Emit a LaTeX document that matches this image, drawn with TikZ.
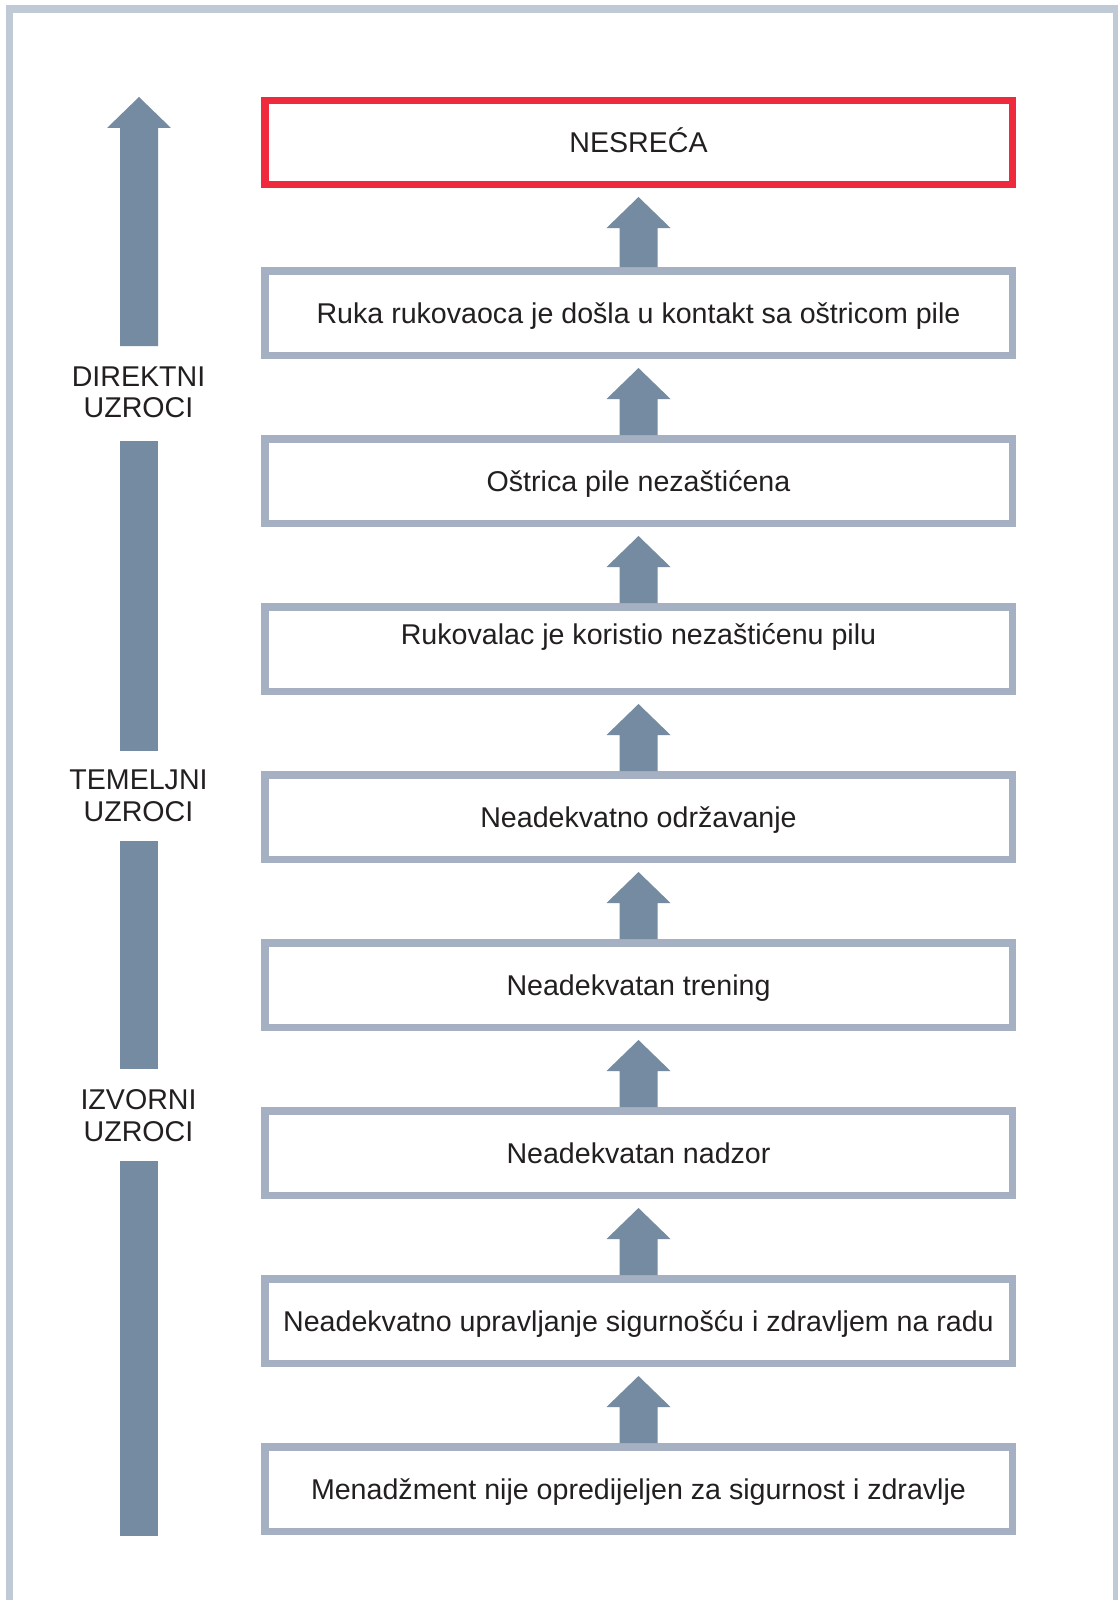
\documentclass[tikz,border=0pt]{standalone}
\usepackage{fontspec}
\setmainfont{Liberation Sans}
\usetikzlibrary{calc}
\definecolor{framecol}{RGB}{192,201,214}
\definecolor{boxcol}{RGB}{165,177,194}
\definecolor{arrowcol}{RGB}{117,139,161}
\definecolor{redcol}{RGB}{238,42,60}
\definecolor{txtcol}{RGB}{35,31,32}
\newcommand{\blockup}[2]{%
  \fill[arrowcol] ($(#1.north)+(-19,0)$) -- ($(#2.south)+(-19,40)$) -- ($(#2.south)+(-32,40)$) -- ($(#2.south)+(0,9)$) -- ($(#2.south)+(32,40)$) -- ($(#2.south)+(19,40)$) -- ($(#1.north)+(19,0)$) -- cycle;}
\begin{document}
\begin{tikzpicture}[x=1pt,y=-1pt,
  box/.style={draw=boxcol, line width=7.5pt, minimum width=747.5pt, minimum height=84.5pt, inner sep=0pt, text height=20.5pt, text depth=0pt, font=\fontsize{28.6}{34}\selectfont, text=txtcol},
  redbox/.style={box, draw=redcol, minimum height=83.5pt},
  sidelabel/.style={align=center, inner sep=0pt, font=\fontsize{28.6}{31.5}\selectfont, text=txtcol}]
\useasboundingbox (0,0) rectangle (1117,1600);
\fill[white] (0,0) rectangle (1117,1600);
% frame
\draw[framecol, line width=7.5pt, line join=miter] (9.5,1610) -- (9.5,9) -- (1116.75,9) -- (1116.75,1610);
% boxes
\node[redbox] (acc) at (638.5,142.5) {NESREĆA};
\node[box] (b1) at (638.5,313) {Ruka rukovaoca je došla u kontakt sa oštricom pile};
\node[box] (b2) at (638.5,481) {Oštrica pile nezaštićena};
\node[box, text depth=29pt] (b3) at (638.5,649) {Rukovalac je koristio nezaštićenu pilu};
\node[box] (b4) at (638.5,817) {Neadekvatno održavanje};
\node[box] (b5) at (638.5,985) {Neadekvatan trening};
\node[box] (b6) at (638.5,1153) {Neadekvatan nadzor};
\node[box] (b7) at (638.5,1321) {Neadekvatno upravljanje sigurnošću i zdravljem na radu};
\node[box] (b8) at (638.5,1489) {Menadžment nije opredijeljen za sigurnost i zdravlje};
% block arrows
\blockup{b1}{acc}
\blockup{b2}{b1}
\blockup{b3}{b2}
\blockup{b4}{b3}
\blockup{b5}{b4}
\blockup{b6}{b5}
\blockup{b7}{b6}
\blockup{b8}{b7}
% left side
\fill[arrowcol] (120,346) -- (120,128) -- (107,128) -- (139,97) -- (171,128) -- (158,128) -- (158,346) -- cycle;
\fill[arrowcol] (120,441) rectangle (158,751);
\fill[arrowcol] (120,841) rectangle (158,1069);
\fill[arrowcol] (120,1161) rectangle (158,1536);
\node[sidelabel] (l1) at (138.5,392.5) {DIREKTNI\\UZROCI};
\node[sidelabel] (l2) at (138.5,795.75) {TEMELJNI\\UZROCI};
\node[sidelabel] (l3) at (138.5,1115.75) {IZVORNI\\UZROCI};
\end{tikzpicture}
\end{document}
